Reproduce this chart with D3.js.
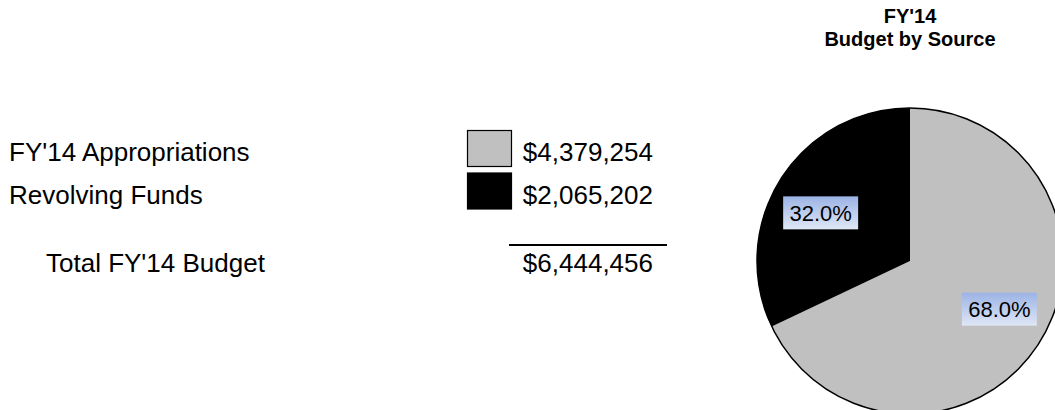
<!DOCTYPE html>
<html>
<head>
<meta charset="utf-8">
<script src="https://cdn.jsdelivr.net/npm/d3@7"></script>
<style>
  html, body { margin: 0; padding: 0; background: #fff; }
  svg { display: block; }
  text { font-family: "Liberation Sans", Arial, sans-serif; fill: #000; }
</style>
</head>
<body>
<svg id="chart" width="1055" height="410"></svg>
<script>
const categories = ["FY'14 Appropriations", "Revolving Funds"];
const values = [4379254, 2065202];
const sliceColors = ["#c0c0c0", "#000000"];
const totalLabel = "Total FY'14 Budget";
const titleLines = ["FY'14", "Budget by Source"];

const svg = d3.select("#chart");
const fmt = v => "$" + d3.format(",")(v);
const total = d3.sum(values);

// ---- Legend table ----
const rowY = d3.scalePoint().domain(categories).range([152, 194.5]);
const leg = svg.append("g");
categories.forEach((c, i) => {
  const y = rowY(c);
  leg.append("text").attr("x", 9).attr("y", y).attr("dy", "0.35em")
    .style("font-size", "26px").text(c);
  leg.append("rect").attr("x", 467.5).attr("y", y - 21.5).attr("width", 44).attr("height", 36)
    .attr("fill", sliceColors[i]).attr("stroke", "#000").attr("stroke-width", 1.2);
  leg.append("text").attr("x", 653).attr("y", y).attr("dy", "0.35em")
    .attr("text-anchor", "end").style("font-size", "26px").text(fmt(values[i]));
});
leg.append("line").attr("x1", 509).attr("x2", 667).attr("y1", 245).attr("y2", 245)
  .attr("stroke", "#000").attr("stroke-width", 2);
leg.append("text").attr("x", 46).attr("y", 272)
  .style("font-size", "26px").text(totalLabel);
leg.append("text").attr("x", 653).attr("y", 272)
  .attr("text-anchor", "end").style("font-size", "26px").text(fmt(total));

// ---- Title ----
const cx = 910, cy = 261, R = 153;
svg.append("g").selectAll("text").data(titleLines).join("text")
  .attr("x", cx).attr("y", (d, i) => 23 + i * 23)
  .attr("text-anchor", "middle").style("font-size", "20px").style("font-weight", "bold")
  .text(d => d);

// ---- Pie ----
const pie = d3.pie().sort(null).value(d => d).startAngle(0).endAngle(2 * Math.PI);
const arcs = pie(values);
const arc = d3.arc().innerRadius(0).outerRadius(R);
const labelPos = d => d3.pointRadial((d.startAngle + d.endAngle) / 2 - 4 * Math.PI / 180, 101.5);

const defs = svg.append("defs");
const grad = defs.append("linearGradient").attr("id", "lblgrad")
  .attr("x1", 0).attr("y1", 0).attr("x2", 0).attr("y2", 1);
grad.append("stop").attr("offset", "0%").attr("stop-color", "#9bb3e4");
grad.append("stop").attr("offset", "100%").attr("stop-color", "#dfe7f6");

const g = svg.append("g").attr("transform", `translate(${cx},${cy})`);
g.selectAll("path").data(arcs).join("path")
  .attr("d", arc).attr("fill", (d, i) => sliceColors[i]);
g.append("circle").attr("r", R).attr("fill", "none").attr("stroke", "#000").attr("stroke-width", 1.5);

const lbl = g.selectAll("g.lbl").data(arcs).join("g").attr("class", "lbl")
  .attr("transform", d => `translate(${labelPos(d)})`);
lbl.append("rect").attr("x", -37.5).attr("y", -16.5).attr("width", 75).attr("height", 33)
  .attr("fill", "url(#lblgrad)");
lbl.append("text").attr("text-anchor", "middle").attr("dy", "0.36em")
  .style("font-size", "22px")
  .text(d => d3.format(".1%")(d.value / total));
</script>
</body>
</html>
